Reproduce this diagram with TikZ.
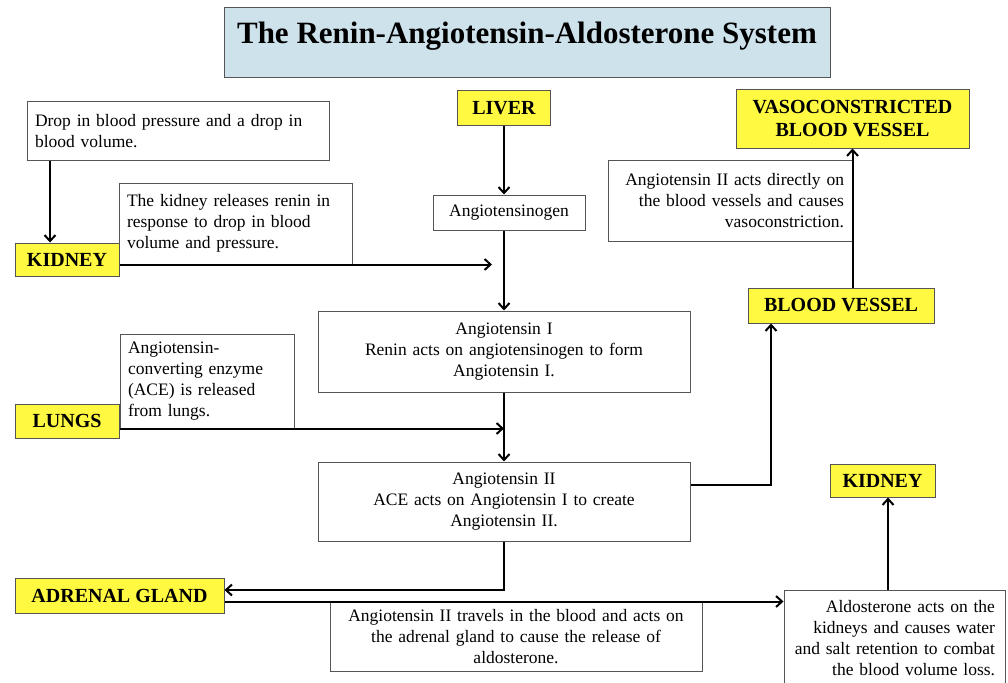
\documentclass[tikz,border=0pt]{standalone}
\usepackage{fontspec}
\setmainfont{Liberation Serif}
\usetikzlibrary{arrows.meta}
\definecolor{labelyellow}{RGB}{255,250,65}
\definecolor{titleblue}{RGB}{205,226,235}
\definecolor{edgegray}{RGB}{85,85,85}
\tikzset{
  textbox/.style={draw=edgegray, line width=1pt, fill=white, inner xsep=8pt, inner ysep=2pt,
    font=\fontsize{17.5}{21}\selectfont},
  organ/.style={draw=edgegray, line width=1pt, fill=labelyellow, inner sep=2pt, align=center,
    font=\fontsize{20}{23}\selectfont\bfseries},
  flow/.style={line width=2pt, -{Straight Barb[length=6pt,width=11pt]}}
}
\begin{document}
\begin{tikzpicture}[x=1pt,y=-1pt]
	\useasboundingbox (0,0) rectangle (1008,682);
	\node[draw=edgegray, line width=1pt, fill=titleblue, minimum width=606pt, minimum height=70pt,
	  text height=22pt, text depth=21pt, font=\fontsize{31}{36}\selectfont\bfseries] (title) at (527,43)
	  {The Renin-Angiotensin-Aldosterone System};
	% left side
	\node[textbox, text width=286pt, minimum height=58pt, align=left] (drop) at (178,131)
	  {Drop in blood pressure and a drop in\\blood volume.};
	\node[organ, minimum width=104pt, minimum height=33pt] (kidneyA) at (67,259.5) {KIDNEY};
	\node[textbox, text width=217pt, minimum height=81pt, align=left] (renin) at (235.5,223.5)
	  {The kidney releases renin in\\response to drop in blood\\volume and pressure.};
	\node[textbox, text width=158pt, minimum height=94pt, align=left] (lungtext) at (207,381)
	  {Angiotensin-\\converting enzyme\\(ACE) is released\\from lungs.};
	\node[organ, minimum width=104pt, minimum height=34pt] (lungs) at (67,421) {LUNGS};
	\node[organ, minimum width=209pt, minimum height=35pt] (adrenal) at (119.5,595.5) {ADRENAL GLAND};
	% middle column
	\node[organ, minimum width=93pt, minimum height=34pt] (liver) at (504,108) {LIVER};
	\node[textbox, text width=136pt, minimum height=35pt, align=center] (angiogen) at (509,212.5)
	  {Angiotensinogen};
	\node[textbox, text width=356pt, minimum height=81pt, align=center] (ang1) at (504,351.5)
	  {Angiotensin I\\Renin acts on angiotensinogen to form\\Angiotensin I.};
	\node[textbox, text width=356pt, minimum height=79pt, align=center] (ang2) at (504,501.5)
	  {Angiotensin II\\ACE acts on Angiotensin I to create\\Angiotensin II.};
	\node[textbox, text width=356pt, minimum height=69pt, align=center] (adtext) at (516,636.5)
	  {Angiotensin II travels in the blood and acts on\\the adrenal gland to cause the release of\\aldosterone.};
	% right side
	\node[organ, minimum width=233pt, minimum height=58pt] (vaso) at (852.5,119)
	  {VASOCONSTRICTED\\BLOOD VESSEL};
	\node[textbox, text width=228pt, minimum height=81pt, align=right] (vasotext) at (730,200.5)
	  {Angiotensin II acts directly on\\the blood vessels and causes\\vasoconstriction.};
	\node[organ, minimum width=186pt, minimum height=35pt] (bloodv) at (841,305.5) {BLOOD VESSEL};
	\node[organ, minimum width=105pt, minimum height=33pt] (kidneyB) at (882.5,480.5) {KIDNEY};
	\node[textbox, inner xsep=10pt, text width=201pt, minimum height=96pt, align=right] (aldo) at (894.5,638)
	  {Aldosterone acts on the\\kidneys and causes water\\and salt retention to combat\\the blood volume loss.};
	% bends and free ends
	\coordinate (kdrop) at (50,0);
	\coordinate (reninto) at (492,0);
	\coordinate (vesselbend) at (771,485);
	\coordinate (adrenalbend) at (504,590);
	\coordinate (aldoup) at (888,0);
	% arrows
	\draw[flow] (kdrop |- drop.south) -- (kdrop |- kidneyA.north);
	\draw[flow] (kidneyA.east |- renin.south) -- (reninto |- renin.south);
	\draw[flow] (liver.south) -- (liver.south |- angiogen.north);
	\draw[flow] (liver.south |- angiogen.south) -- (ang1.north);
	\draw[flow] (lungs.east |- lungtext.south) -- (ang1.south |- lungtext.south);
	\draw[flow] (ang1.south) -- (ang2.north);
	\draw[flow] (ang2.east |- vesselbend) -- (vesselbend) -- (vesselbend |- bloodv.south);
	\draw[flow] (vasotext.east |- bloodv.north) -- (vasotext.east |- vaso.south);
	\draw[flow] (ang2.south) -- (adrenalbend) -- (adrenal.east |- adrenalbend);
	\draw[flow] (adrenal.east |- adtext.north) -- (aldo.west |- adtext.north);
	\draw[flow] (aldoup |- aldo.north) -- (aldoup |- kidneyB.south);
\end{tikzpicture}
\end{document}
